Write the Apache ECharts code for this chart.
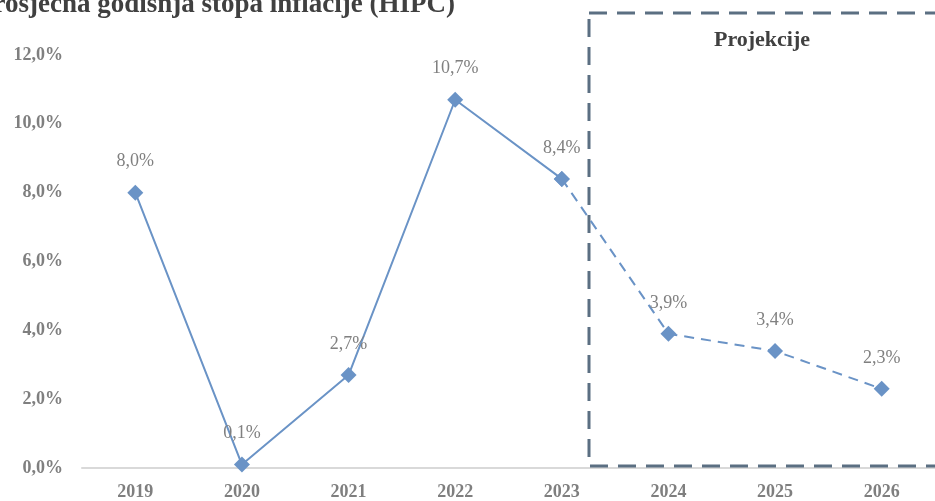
<!DOCTYPE html>
<html><head><meta charset="utf-8">
<script src="https://cdn.jsdelivr.net/npm/echarts@6/dist/echarts.min.js"></script>
<style>html,body{margin:0;padding:0;background:#fff}#c{width:935px;height:501px}</style>
</head><body><div id="c"></div>
<script>
var titleText = 'Prosječna godišnja stopa inflacije (HIPC)';
var boxLabel = 'Projekcije';
var years = ['2019','2020','2021','2022','2023','2024','2025','2026'];
var inflation = [8.0, 0.1, 2.7, 10.7, 8.4, 3.9, 3.4, 2.3];
var lastActualIndex = 4;
var yTicks = [0, 2, 4, 6, 8, 10, 12];

var actual = inflation.map(function(v,i){ return i <= lastActualIndex ? v : null; });
var projected = inflation.map(function(v,i){ return i >= lastActualIndex ? v : null; });
function fmt(v){ return v.toFixed(1).replace('.', ',') + '%'; }

var FONT = '"Liberation Serif", "DejaVu Serif", serif';
var LINE = '#6a93c6';
var chart = echarts.init(document.getElementById('c'));
var labelCfg = {
  show: true, position: 'top', distance: 14,
  color: '#808080', fontSize: 18, fontFamily: FONT,
  formatter: function(p){ return fmt(p.value); }
};
chart.setOption({
  animation: false,
  grid: { left: 82, right: -5, top: 55, bottom: 32 },
  xAxis: {
    type: 'category', data: years, boundaryGap: true,
    axisLine: { lineStyle: { color: '#d9d9d9', width: 2 } },
    axisTick: { show: false },
    axisLabel: { color: '#7f7f7f', fontWeight: 'bold', fontSize: 18, fontFamily: FONT, margin: 15 }
  },
  yAxis: {
    type: 'value', min: yTicks[0], max: yTicks[yTicks.length-1], interval: 2,
    axisLine: { show: false }, axisTick: { show: false }, splitLine: { show: false },
    axisLabel: { color: '#7f7f7f', fontWeight: 'bold', fontSize: 18, fontFamily: FONT, margin: 19,
      formatter: function(v){ return fmt(v); } }
  },
  series: [
    { type: 'line', data: actual, symbol: 'diamond', symbolSize: 16,
      lineStyle: { color: LINE, width: 2 }, itemStyle: { color: LINE },
      label: labelCfg, z: 3 },
    { type: 'line', data: projected, symbol: 'diamond', symbolSize: 16,
      lineStyle: { color: LINE, width: 2, type: [10, 7] }, itemStyle: { color: LINE },
      label: Object.assign({}, labelCfg, { formatter: function(p){ return p.dataIndex === lastActualIndex ? '' : fmt(p.value); } }), z: 3 }
  ]
});
var xL = chart.convertToPixel({xAxisIndex:0}, years[lastActualIndex]);
var xN = chart.convertToPixel({xAxisIndex:0}, years[lastActualIndex+1]);
var bx = xL + (xN - xL) * 0.255;
chart.setOption({
  graphic: [
    { type: 'text', z: 5, style: { x: 455, y: 5, text: titleText, fill: '#404040', font: 'bold 27px ' + FONT, textAlign: 'right', textVerticalAlign: 'middle' } },
    { type: 'rect', shape: { x: bx, y: 13, width: 960 - bx, height: 453 }, z: 1,
      style: { fill: 'none', stroke: '#5b6f82', lineWidth: 3, lineDash: [18, 10] } },
    { type: 'text', z: 5, style: { x: 762, y: 40, text: boxLabel, fill: '#404040', font: 'bold 22px ' + FONT, textAlign: 'center', textVerticalAlign: 'middle' } }
  ]
});
</script></body></html>
